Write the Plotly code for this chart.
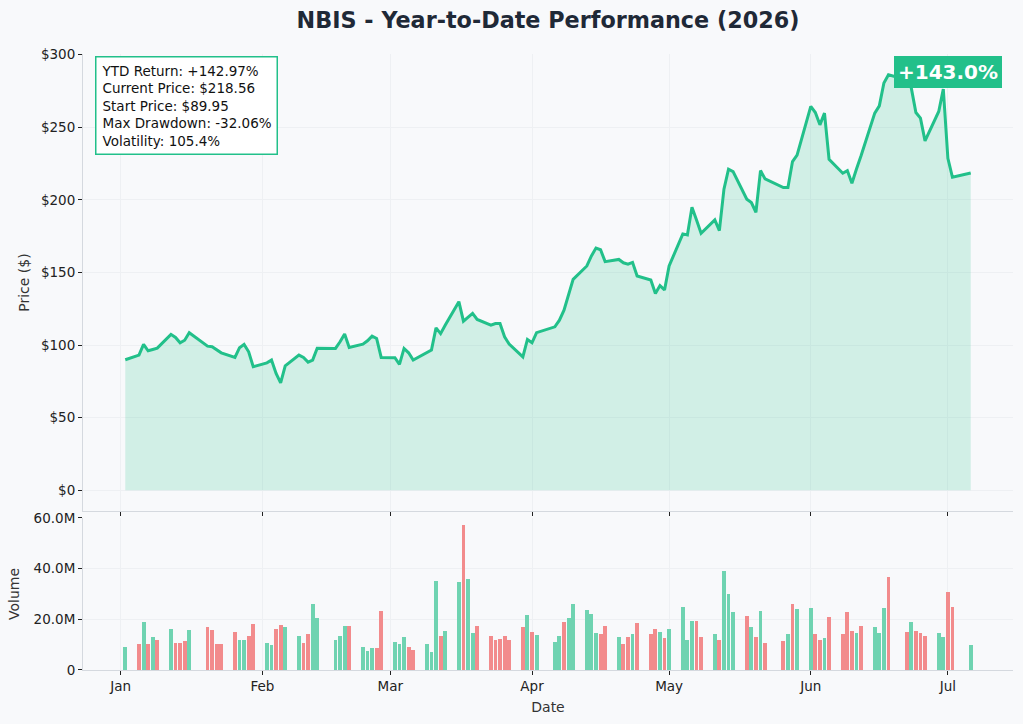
import pandas as pd
import plotly.graph_objects as go
from plotly.subplots import make_subplots

# trading days 2026 (NYSE holidays removed)
holidays = ["2026-01-19", "2026-02-16", "2026-04-03", "2026-05-25", "2026-06-19", "2026-07-03"]
dates = [d for d in pd.bdate_range("2026-01-02", "2026-07-06") if d.strftime("%Y-%m-%d") not in holidays]

# closing prices ($)
close = [
    # Jan
    89.95, 93.1, 100.5, 96.1, 97.0, 97.9, 107.4, 105.3, 101.6, 103.4, 108.5, 99.3, 98.9, 97.0, 94.7,
    91.5, 98.2, 100.5, 95.4, 85.1,
    # Feb
    87.8, 89.7, 80.5, 74.0, 85.7, 93.1, 91.5, 88.3, 89.7, 97.9, 97.7, 102.3, 107.6, 98.4, 100.7,
    103.0, 106.2, 104.6, 91.5,
    # Mar
    91.3, 86.7, 97.7, 94.7, 89.7, 94.9, 96.6, 111.9, 107.9, 113.7, 129.9, 116.5, 119.1, 121.8, 117.7,
    113.7, 114.9, 114.9, 105.7, 100.7, 91.9, 103.9,
    # Apr
    101.6, 108.6, 112.6, 117.2, 124.1, 135.6, 145.3, 154.5, 161.4, 166.8, 165.7, 157.5, 159.0, 156.7,
    155.8, 157.0, 147.6, 144.8, 135.6, 141.0, 138.0,
    # May
    154.5, 176.6, 175.9, 195.0, 186.2, 177.0, 186.2, 178.8, 207.4, 221.1, 219.5, 200.5, 198.2, 191.5,
    220.2, 214.5, 208.5, 208.5, 226.4, 230.9,
    # Jun
    264.4, 260.2, 251.7, 259.8, 228.0, 218.4, 220.2, 211.5, 221.3, 230.4, 259.8, 264.8, 280.5, 286.2,
    282.8, 277.0, 260.2, 256.3, 240.7, 260.9, 276.3,
    # Jul
    228.7, 215.6, 218.56,
]

# daily volume (millions)
volume_m = [
    9.1, 10.3, 18.9, 10.3, 13.0, 11.8, 16.2, 10.7, 10.7, 11.4, 15.8, 17.0, 15.8, 10.3, 10.3,
    15.0, 11.8, 11.8, 13.4, 18.2,
    10.7, 9.9, 16.2, 17.8, 17.0, 13.4, 10.7, 14.2, 26.1, 20.5, 11.8, 13.4, 17.4, 17.4, 9.1,
    7.5, 8.7, 8.7, 23.3,
    11.1, 10.3, 13.0, 9.1, 7.9, 10.3, 7.1, 35.1, 13.4, 15.4, 34.7, 57.2, 35.9, 14.6, 17.4,
    13.4, 11.8, 12.2, 13.4, 11.8, 17.0, 21.7,
    15.0, 13.8, 11.1, 13.4, 18.9, 20.5, 26.1, 23.7, 22.1, 14.6, 14.2, 17.4, 13.0, 10.3,
    13.0, 14.2, 18.6, 14.2, 16.2, 15.0, 12.6,
    16.2, 24.9, 11.8, 19.3, 19.3, 13.0, 14.2, 11.8, 39.1, 30.0, 22.9, 21.3, 17.0, 13.0,
    23.3, 10.7, 11.4, 14.2, 26.1, 24.1,
    24.5, 14.2, 11.8, 12.6, 20.9, 14.2, 22.9, 15.4, 14.6, 17.4, 17.0, 14.6, 24.5, 36.7,
    15.0, 18.9, 15.4, 14.6, 13.4, 14.6, 13.0,
    30.8, 24.9, 9.9,
]

# up (G) / down (R) day for volume colouring
direction = list(
    "GRGRGR" "GRRRG" "RRRR" "RGGRR"
    "GGRRG" "GRRGG" "GGGR" "GGGRR"
    "GGGRR" "GGGRG" "GRGGR" "RRRRR" "RG"
    "RG" "GGRGG" "GGGRR" "GRRGR" "RRGR"
    "G" "GGGRR" "GRGGG" "RGRGR" "RGRG"
    "GRRGR" "RRRGR" "GGGR" "RGRRR" "GG"
    "RRG"
)

price_ticks = [0, 50, 100, 150, 200, 250, 300]
price_ticktext = ["$0", "$50", "$100", "$150", "$200", "$250", "$300"]
vol_ticks = [0, 20e6, 40e6, 60e6]
vol_ticktext = ["0", "20.0M", "40.0M", "60.0M"]

info_lines = [
    "YTD Return: +142.97%",
    "Current Price: $218.56",
    "Start Price: $89.95",
    "Max Drawdown: -32.06%",
    "Volatility: 105.4%",
]

green = "#22c08a"
bg = "#f8f9fb"
bar_colors = ["#6fd3b1" if d == "G" else "#f28b8c" for d in direction]
volume = [v * 1e6 for v in volume_m]

fig = make_subplots(rows=2, cols=1, shared_xaxes=True)

fig.add_trace(go.Scatter(x=dates, y=close, mode="lines",
                         line=dict(color=green, width=3),
                         fill="tozeroy", fillcolor="rgba(34,192,138,0.18)"),
              row=1, col=1)

fig.add_trace(go.Bar(x=dates, y=volume, marker_color=bar_colors,
                     marker_line_width=0, width=0.85 * 86400000),
              row=2, col=1)

axis_style = dict(showgrid=True, gridcolor="#eef0f3", gridwidth=1,
                  showline=True, linecolor="#d5d9df", linewidth=1,
                  ticks="outside", ticklen=4, tickcolor="#222222",
                  zeroline=False, automargin=False,
                  tickfont=dict(size=13.5, color="#222222"))

xrange = ["2025-12-23 18:00", "2026-07-15 06:00"]
fig.update_xaxes(range=xrange, dtick="M1", tick0="2026-01-01", tickformat="%b", **axis_style)
fig.update_xaxes(showticklabels=False, row=1, col=1)
fig.update_xaxes(title=dict(text="Date", font=dict(size=14, color="#333333"), standoff=8), row=2, col=1)

fig.update_yaxes(**axis_style)
fig.update_yaxes(range=[-14.3, 300.5], tickvals=price_ticks, ticktext=price_ticktext,
                 title=dict(text="Price ($)", font=dict(size=14, color="#333333"), standoff=8),
                 row=1, col=1)
fig.update_yaxes(range=[0, 60.06e6], tickvals=vol_ticks, ticktext=vol_ticktext,
                 title=dict(text="Volume", font=dict(size=14, color="#333333"), standoff=10),
                 row=2, col=1)

fig.update_layout(
    width=1023, height=724,
    margin=dict(l=83, r=10, t=54, b=54),
    paper_bgcolor=bg, plot_bgcolor=bg,
    font=dict(family="DejaVu Sans", color="#222222"),
    showlegend=False,
    bargap=0,
    title=dict(text="<b>NBIS - Year-to-Date Performance (2026)</b>", x=0.5, xref="paper",
               xanchor="center", y=0.972, yanchor="middle",
               font=dict(size=22.3, color="#1f2937")),
    yaxis=dict(domain=[0.258, 1.0]),
    yaxis2=dict(domain=[0.0, 0.247]),
)

fig.add_annotation(xref="paper", yref="paper", x=0.013, y=0.997, xanchor="left", yanchor="top",
                   text="<br>".join(info_lines), align="left", showarrow=False,
                   font=dict(size=13.5, color="#111111"),
                   bgcolor="white", bordercolor=green, borderwidth=1.5, borderpad=5)

fig.add_annotation(x="2026-07-01", y=288.3, xref="x", yref="y", text="<b>+143.0%</b>",
                   showarrow=False, font=dict(size=20, color="white"),
                   bgcolor=green, bordercolor=green, borderwidth=1, borderpad=3)

# drop the default page margin so the figure fills the window
fig.write_html("out.html", config={"displayModeBar": False},
               post_script="document.body.style.margin='0';document.body.style.background='%s';" % bg)
